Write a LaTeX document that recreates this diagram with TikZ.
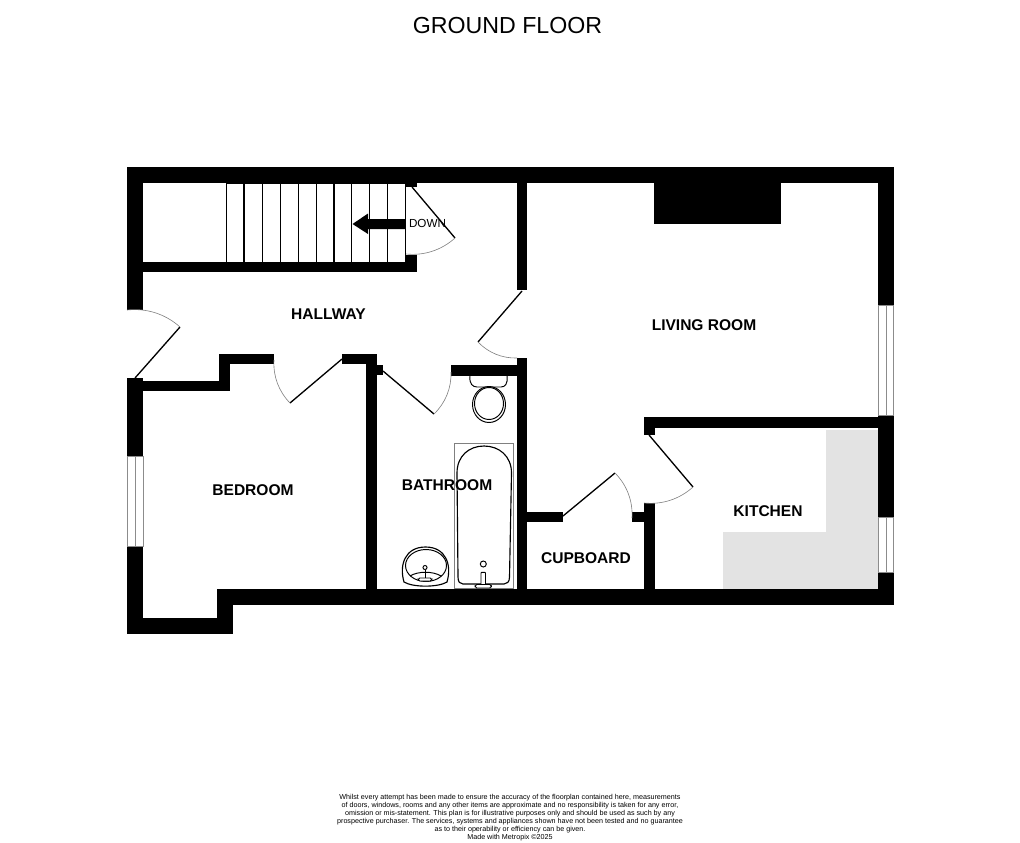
\documentclass[tikz,border=0pt]{standalone}
\usepackage{fontspec}
\setmainfont{Liberation Sans}
\begin{document}
\begin{tikzpicture}[x=0.02cm,y=-0.02cm]
    \tikzstyle{every node}=[font=\fontsize{8.85}{10}\bfseries]
    \tikzstyle{wall}=[fill=black]
    \tikzstyle{leaf}=[draw=black,line width=0.75pt]
    \tikzstyle{swing}=[draw=black!50,line width=0.35pt,looseness=0.9]
    \tikzstyle{glass}=[draw=black!45,fill=white,line width=0.45pt]
    \tikzstyle{fitting}=[draw=black,line width=0.55pt]

    \useasboundingbox (0,0) rectangle (1020,842);

    \node (title) at (507.5,26) {\fontsize{13.2}{16}\mdseries GROUND FLOOR};

    % kitchen units
    \fill[black!11] (826,430) -- (878,430) -- (878,589) -- (723,589) -- (723,532) -- (826,532) -- cycle;

    % outer walls
    \fill[wall] (127,167) rectangle (894,183);
    \fill[wall] (127,167) rectangle (143,310);
    \fill[wall] (127,378) rectangle (143,634);
    \fill[wall] (127,618) rectangle (233,634);
    \fill[wall] (217,589) rectangle (233,634);
    \fill[wall] (217,589) rectangle (894,605);
    \fill[wall] (878,167) rectangle (894,605);

    % inner walls
    \fill[wall] (143,262) rectangle (417,272);
    \fill[wall] (405,255) rectangle (417,272);
    \fill[wall] (405,183) rectangle (417,187);
    \fill[wall] (517,183) rectangle (527,290);
    \fill[wall] (517,358) rectangle (527,590);
    \fill[wall] (451,365) rectangle (517,376);
    \fill[wall] (366,354) rectangle (377,590);
    \fill[wall] (342,354) rectangle (377,364);
    \fill[wall] (377,365) rectangle (383,375);
    \fill[wall] (219,354) rectangle (274,364);
    \fill[wall] (219,354) rectangle (230,391);
    \fill[wall] (143,381) rectangle (230,391);
    \fill[wall] (644,417) rectangle (878,428);
    \fill[wall] (644,417) rectangle (655,435);
    \fill[wall] (644,503) rectangle (655,590);
    \fill[wall] (632,512) rectangle (644,522);
    \fill[wall] (527,512) rectangle (563,522);

    % chimney breast
    \fill[wall] (654,183) rectangle (781,224);

    % windows
    \draw[glass] (127,456) rectangle (143,546);
    \draw[glass] (135,456) -- (135,546);
    \draw[glass] (878.5,305) rectangle (893.5,415);
    \draw[glass] (886,305) -- (886,415);
    \draw[glass] (878.5,517) rectangle (893.5,572);
    \draw[glass] (886,517) -- (886,572);

    % stairs
    \draw[fitting] (226.5,183) rectangle (405.5,262);
    \draw[fitting,line width=0.8pt] (244,183) -- (244,262)
        (262.3,183) -- (262.3,262)
        (280.3,183) -- (280.3,262)
        (298.3,183) -- (298.3,262)
        (316.3,183) -- (316.3,262)
        (334,183) -- (334,262)
        (351.7,183) -- (351.7,262)
        (369.7,183) -- (369.7,262)
        (387.7,183) -- (387.7,262);
    \fill[wall] (405,219) -- (368,219) -- (368,213.5) -- (352.5,224)
        -- (368,234) -- (368,229) -- (405,229) -- cycle;
    \node[font=\fontsize{6.65}{8}\mdseries] (down) at (427.5,223) {DOWN};

    % doors
    \draw[leaf] (412,187) -- (455,238);
    \draw[swing] (455,238) to[bend left=24] (406,254);
    \draw[leaf] (135,378) -- (180,327);
    \draw[swing] (180,327) to[bend right=24] (127,310);
    \draw[leaf] (342,359) -- (290,403);
    \draw[swing] (290,403) to[bend left=24] (274,360);
    \draw[leaf] (383,371) -- (434,414);
    \draw[swing] (434,414) to[bend right=24] (451,372);
    \draw[leaf] (522,291) -- (478,342);
    \draw[swing] (478,342) to[bend right=24] (517,358);
    \draw[leaf] (649,435) -- (693,487);
    \draw[swing] (693,487) to[bend left=24] (644,503);
    \draw[leaf] (563,516) -- (615,473);
    \draw[swing] (615,473) to[bend left=24] (632,518);

    % toilet
    \draw[fitting] (470,376) .. controls (469,384) and (473,387) .. (477,387)
        -- (501,387) .. controls (505,387) and (508,384) .. (507,376);
    \draw[fitting] (489,404.5) ellipse (16.5 and 18);
    \draw[fitting] (489,403.5) ellipse (14.5 and 16);

    % bath
    \draw[draw=black!50,line width=0.5pt] (454.5,443.5) rectangle (513.5,588.5);
    \draw[fitting,line width=0.65pt] (457,473) .. controls (457,456) and (469,446) .. (484,446)
        .. controls (499,446) and (511.5,456) .. (511.5,473)
        -- (509.5,577) .. controls (509.5,582) and (507,584) .. (504,584)
        -- (463,584) .. controls (460,584) and (458,582) .. (458,577) -- cycle;
    \draw[fitting] (483.3,564) circle (3);
    \fill[white] (480.5,572.5) rectangle (486,585);
    \draw[fitting] (481,584) -- (481,573) .. controls (481,572) and (485.5,572) .. (485.5,573) -- (485.5,584);
    \draw[fitting,fill=white,rounded corners=1pt] (475,584.5) rectangle (491.5,588);

    % basin
    \draw[fitting,line width=0.65pt] (404,582) .. controls (399,565) and (405,547) .. (425.5,547)
        .. controls (446,547) and (452,565) .. (447,582)
        .. controls (438,587.5) and (413,587.5) .. (404,582) -- cycle;
    \draw[fitting] (426,565.5) ellipse (20.5 and 16);
    \draw[fitting] (410,576) .. controls (418,571) and (433,571) .. (441,576);
    \draw[fitting] (425,567.5) circle (2);
    \draw[fitting] (425,569.5) -- (425,578);
    \draw[fitting,fill=white,rounded corners=1pt] (418,578) rectangle (432,581);

    % rooms
    \node (hallway) at (328.5,314) {HALLWAY};
    \node (livingroom) at (704,325) {LIVING ROOM};
    \node (bedroom) at (253,490) {BEDROOM};
    \node (bathroom) at (447,485) {BATHROOM};
    \node (kitchen) at (768,510.7) {KITCHEN};
    \node (cupboard) at (586,557.7) {CUPBOARD};

    \node[align=center,font=\fontsize{4.08}{4.6}\mdseries] (small) at (510,817.5)
        {Whilst every attempt has been made to ensure the accuracy of the floorplan contained here, measurements\\
        of doors, windows, rooms and any other items are approximate and no responsibility is taken for any error,\\
        omission or mis-statement. This plan is for illustrative purposes only and should be used as such by any\\
        prospective purchaser. The services, systems and appliances shown have not been tested and no guarantee\\
        as to their operability or efficiency can be given.\\
        Made with Metropix \copyright 2025};
\end{tikzpicture}
\end{document}
